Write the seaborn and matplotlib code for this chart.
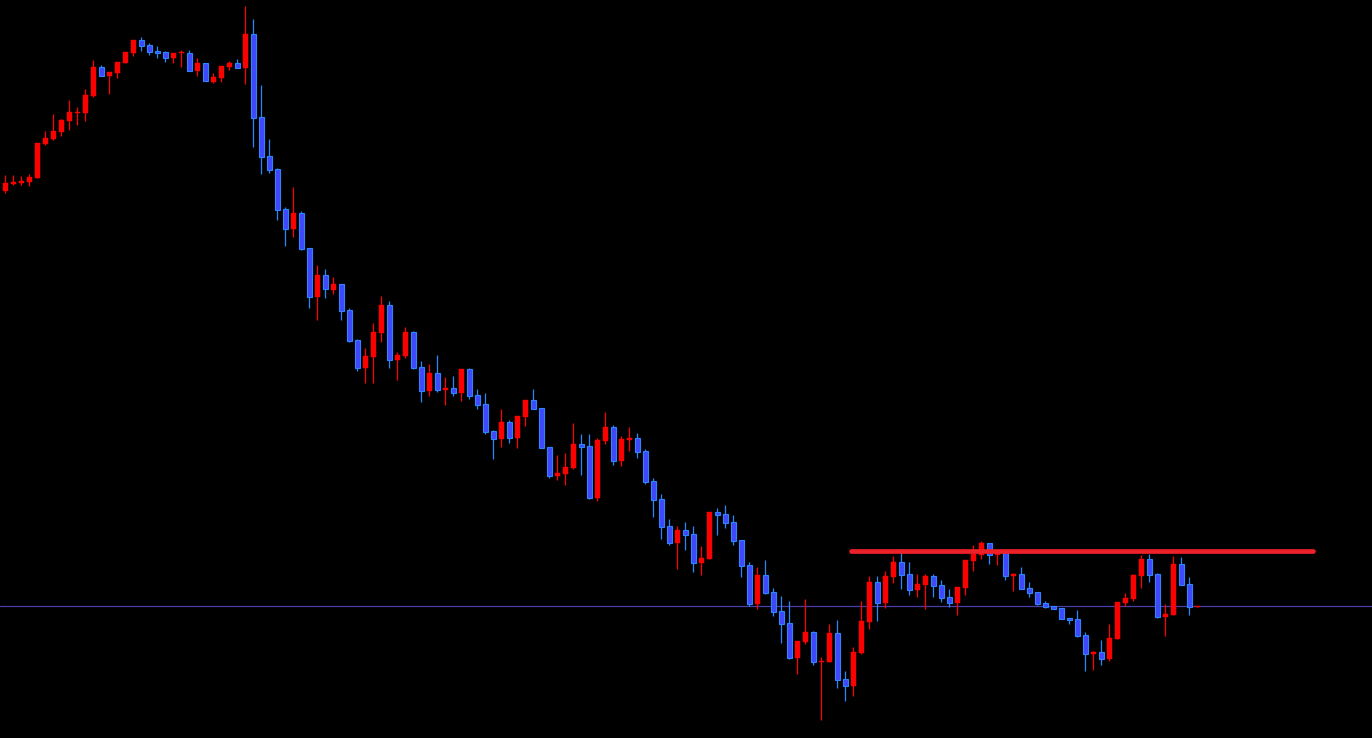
import numpy as np
import pandas as pd
import seaborn as sns
import matplotlib.pyplot as plt

## candle data : price in points (150 bars)
## red = bullish bar, blue = bearish bar (terminal colour scheme)

opens = [809, 816.3, 817.3, 818.3, 822.3, 856.3, 861, 868.3, 879.3, 887.3,
         887, 904, 933, 924.3, 927.3, 937.3, 947.3, 960, 954.7, 949,
         948, 942.3, 946.7, 947, 928.7, 937, 918.3, 922.3, 933.3, 937,
         932.3, 966, 883, 844, 831, 791, 771.3, 787, 752, 703.3,
         725, 710.3, 716, 690, 660, 632.3, 643.3, 667.3, 695, 640.3,
         644.3, 668, 633, 609.3, 627, 610.3, 612, 607.3, 631, 605,
         596, 569, 561.3, 578, 562.3, 583.3, 600, 592, 553, 524.3,
         526.3, 532, 556, 554, 502.3, 559, 573, 539.3, 560, 562,
         549, 519, 501, 474, 457.3, 470, 466, 437.3, 441.3, 488,
         486, 478, 460, 435, 396.3, 425, 408, 389, 377, 342.3,
         358.3, 368, 338.3, 338.3, 367, 321, 314.3, 347.3, 378.3, 418,
         397.3, 423.3, 438, 426, 410.3, 415.3, 424, 415, 403, 397.3,
         412.3, 439.3, 445.3, 457, 445.3, 448, 424.3, 426, 412, 408,
         397, 394, 392, 382, 381, 365, 346.3, 348, 341.3, 361.3,
         397.3, 401.3, 424.3, 441, 426, 383.3, 385.3, 436, 416, 393]

highs = [825, 825, 824, 826, 857, 869, 886, 881.3, 900, 893,
         911, 940, 935, 928, 938, 948, 960, 963, 957, 954,
         949, 947, 950, 950, 942, 937, 926.7, 934, 939, 941,
         994.3, 981, 915, 861, 832, 793, 813, 789, 752, 735,
         731, 723, 716, 692, 661, 652, 677, 704, 699, 648,
         673, 669, 639, 636, 645, 623, 624, 631, 632, 611,
         607, 570, 591, 580, 584, 600, 611, 592, 553, 545,
         547, 577, 566, 566, 562, 588, 575, 564, 573, 567,
         551, 522, 506, 481, 474, 478, 474, 454, 488, 492,
         495, 485, 460, 438, 433, 440, 412, 404, 399, 359,
         401, 369, 343.3, 376, 380, 329, 353, 399, 424, 424,
         429, 444, 451, 438, 426, 426, 426, 420, 411, 413,
         440, 455, 459, 457, 450, 448, 427, 433, 418, 408,
         399, 394, 392, 382, 390, 368, 349.3, 360, 376, 398,
         407, 426, 445, 446, 427, 396, 444, 443, 423, 394]

lows = [807.3, 815, 815, 814, 822, 855.3, 860, 864, 870, 875,
        879.3, 903, 924.3, 906.3, 922.3, 937.3, 944.3, 949.3, 945.3, 942.3,
        938.3, 937.3, 933.3, 928.7, 924.3, 918.7, 917.3, 918.3, 930.3, 932.3,
        916.3, 853.3, 826.3, 827.3, 780.3, 754.3, 763.3, 750.3, 692.3, 680.3,
        702.3, 706.3, 680.3, 658, 629.3, 617.3, 617.3, 658.3, 632.3, 620.3,
        642.3, 631.3, 598.3, 604.3, 608.3, 595.3, 604.3, 599.3, 601.3, 591.3,
        566.3, 541.3, 553, 557.3, 552.3, 574.3, 591.3, 552.3, 522.3, 520.3,
        515.3, 531, 525.3, 501.3, 499.3, 556, 535.3, 534.3, 549, 542.3,
        516.3, 483.3, 461.3, 455, 431.3, 450.3, 428.3, 425.3, 441.3, 465.3,
        472.3, 455.3, 423.3, 394.3, 391.3, 406.3, 384.3, 357.3, 341.3, 326.3,
        356.3, 335.3, 280.3, 338.3, 312.3, 299.3, 304.3, 346.3, 371.3, 379.3,
        392.3, 417.3, 411.3, 405.3, 403.3, 391.3, 403.3, 398.3, 393.3, 385.3,
        405.3, 429.3, 441.3, 436.3, 435.3, 420.3, 409.3, 411.3, 403.3, 395.3,
        392.3, 391.3, 381.3, 376.3, 363.3, 329.3, 330.3, 335.3, 339.3, 361.3,
        394.3, 399.3, 412.3, 418.3, 382.3, 364.3, 385.3, 415.3, 385.3, 393]

closes = [816.7, 818, 819, 823, 857, 862, 869, 880, 888, 888.3,
          905, 933, 924.3, 928, 938, 948, 960, 954.3, 948.3, 947.3,
          942.3, 947, 947.3, 928.7, 937, 918.7, 922.7, 934, 937, 932.3,
          966, 882.3, 843.3, 830.3, 790.3, 771.3, 787, 751.3, 703.3, 725,
          710.7, 716, 689.3, 659, 632.3, 644, 668, 695, 640.3, 645,
          668, 632.3, 609.3, 627, 610.3, 612.3, 607.3, 631, 604.3, 595.3,
          568.3, 561.3, 578, 562.3, 584, 600, 591.3, 552.3, 524.3, 527,
          533, 556, 553.3, 502.3, 560, 573, 539.3, 561, 562, 548.3,
          518.3, 500.3, 473.3, 457.3, 470, 465.3, 437.3, 442, 488, 485.3,
          477.3, 459.3, 434.3, 396.3, 425, 407.3, 388.3, 376.3, 342.3, 359,
          368, 338.3, 339.3, 367, 320.3, 314.3, 348, 379, 418, 397.3,
          424, 438, 425.3, 410.3, 416, 424, 414.3, 402.3, 397.3, 413,
          440, 446, 457, 445.3, 448, 424.3, 426, 411.3, 407.3, 396.3,
          393.3, 391.3, 381.3, 380.3, 364.3, 346.3, 348.3, 341.3, 362, 398,
          402, 425, 441, 425.3, 383.3, 386, 436, 415.3, 393.3, 393.7]

current_price = 393.7
resistance_level = 449
resistance_from, resistance_to = 105.7, 163.5

df = pd.DataFrame({"open": opens, "high": highs, "low": lows, "close": closes})
df["bar"] = np.arange(len(df))
df["bull"] = df["close"] >= df["open"]

BULL = "#ff0000"
BEAR_FILL = "#3f48ff"
BEAR_EDGE = "#2a86ff"
BEAR_WICK = "#2a86ff"

sns.set_theme(style="dark", rc={"axes.facecolor": "black", "figure.facecolor": "black"})

fig = plt.figure(figsize=(13.72, 7.38), dpi=100)
ax = fig.add_axes([0, 0, 1, 1])
ax.set_facecolor("black")

# current price line (behind candles)
ax.axhline(current_price, color="#4a3fa8", linewidth=0.9, zorder=1)

bull = df[df["bull"]]
bear = df[~df["bull"]]

# wicks
ax.vlines(bull["bar"], bull["low"], bull["high"], color=BULL, linewidth=0.9, zorder=2)
ax.vlines(bear["bar"], bear["low"], bear["high"], color=BEAR_WICK, linewidth=0.9, zorder=2)

# bodies (minimum 1 point tall so dojis still show)
width = 0.62
bull_h = np.maximum(bull["close"] - bull["open"], 1.0)
bear_h = np.maximum(bear["open"] - bear["close"], 1.0)
ax.bar(bull["bar"], bull_h, bottom=bull["open"], width=width,
       color=BULL, edgecolor=BULL, linewidth=0.3, zorder=3)
ax.bar(bear["bar"], bear_h, bottom=bear["close"], width=width,
       color=BEAR_FILL, edgecolor=BEAR_EDGE, linewidth=0.8, zorder=3)

# resistance line
sns.lineplot(x=[resistance_from, resistance_to], y=[resistance_level, resistance_level],
             color="#ee2028", linewidth=3.4, ax=ax, zorder=4)

ax.set_xlim(-0.667, 170.83)
ax.set_ylim(262, 1000)
ax.set_xticks([])
ax.set_yticks([])
for s in ax.spines.values():
    s.set_visible(False)
ax.grid(False)

fig.savefig("out.png", dpi=100, facecolor="black")
plt.close(fig)
